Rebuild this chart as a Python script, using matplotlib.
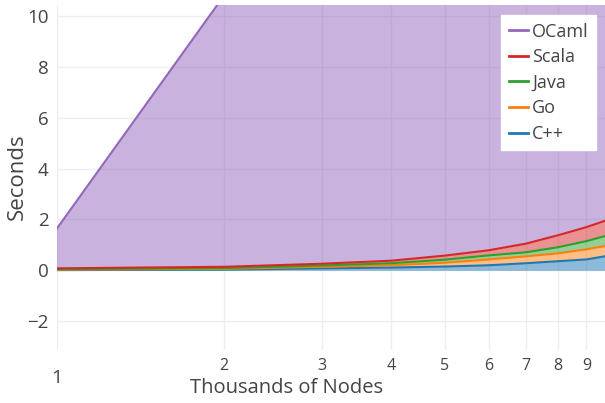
import numpy as np
import matplotlib
matplotlib.use("Agg")
import matplotlib.pyplot as plt
from matplotlib.lines import Line2D

plt.rcParams['font.family'] = ['Open Sans', 'DejaVu Sans']

# thousands of nodes
nodes = [1, 2, 3, 4, 5, 6, 7, 8, 9, 10]
# seconds per language (stacked bottom -> top)
cpp = [0.01, 0.03, 0.08, 0.11, 0.15, 0.20, 0.28, 0.36, 0.43, 0.60]
go = [0.02, 0.03, 0.06, 0.09, 0.15, 0.23, 0.27, 0.31, 0.40, 0.40]
java = [0.02, 0.03, 0.05, 0.08, 0.12, 0.16, 0.16, 0.24, 0.32, 0.42]
scala = [0.03, 0.05, 0.07, 0.10, 0.16, 0.20, 0.34, 0.47, 0.55, 0.62]
ocaml = [1.57, 10.66, 24.1, 43.0, 67.5, 96.8, 131.2, 171.4, 216.9, 267.3]

names = ["C++", "Go", "Java", "Scala", "OCaml"]
colors = ["#1f77b4", "#ff7f0e", "#2ca02c", "#d62728", "#9467bd"]
series = [cpp, go, java, scala, ocaml]

fig = plt.figure(figsize=(6.05, 4.03), dpi=100)
ax = fig.add_axes([0.0942, 0.1315, 0.9058, 0.8561])

x = np.array(nodes, dtype=float)
base = np.zeros(len(x))
for vals, c in zip(series, colors):
    top = base + np.array(vals)
    ax.fill_between(x, base, top, color=c, alpha=0.5, lw=0, zorder=2)
    ax.plot(x, top, color=c, lw=1.5, zorder=3)
    base = top

ax.set_xscale("log")
ax.set_xlim(1, 9.72)
ax.set_ylim(-3.13, 10.43)

grid_c = "#eeeeee"
ax.set_yticks([-2, 0, 2, 4, 6, 8, 10])
ax.set_yticklabels(["\u22122", "0", "2", "4", "6", "8", "10"])
ax.set_xticks([1])
ax.set_xticklabels(["1"])
ax.set_xticks([2, 3, 4, 5, 6, 7, 8, 9], minor=True)
ax.xaxis.set_minor_formatter(matplotlib.ticker.FixedFormatter([str(i) for i in range(2, 10)]))

ax.tick_params(axis="y", length=0, pad=6, labelsize=13.5, labelcolor="#444444")
ax.tick_params(axis="x", which="major", length=0, pad=14, labelsize=14, labelcolor="#444444")
ax.tick_params(axis="x", which="minor", length=0, pad=6, labelsize=11.5, labelcolor="#444444")

ax.grid(True, which="both", axis="x", color=grid_c, lw=1, zorder=0)
ax.grid(True, which="major", axis="y", color=grid_c, lw=1, zorder=0)
ax.set_axisbelow(True)
for s in ax.spines.values():
    s.set_visible(False)

# axis titles placed in figure pixels
fig.text(17 / 605, 1 - 177 / 403, "Seconds", rotation=90, ha="center", va="center",
         fontsize=16, color="#444444")
fig.text(287 / 605, 1 - 388 / 403, "Thousands of Nodes", ha="center", va="center",
         fontsize=14.5, color="#444444")

handles = [Line2D([], [], color=colors[i], lw=2) for i in range(4, -1, -1)]
labels = [names[i] for i in range(4, -1, -1)]
leg = ax.legend(handles, labels, loc="upper right", bbox_to_anchor=(0.9835, 0.97),
                frameon=True, fancybox=False, fontsize=13, handlelength=1.05,
                handletextpad=0.25, labelspacing=0.42, borderpad=0.4, borderaxespad=0)
leg.get_frame().set_facecolor("white")
leg.get_frame().set_edgecolor("white")
leg.get_frame().set_alpha(1)
for t in leg.get_texts():
    t.set_color("#444444")

fig.savefig("out.png", dpi=100)
